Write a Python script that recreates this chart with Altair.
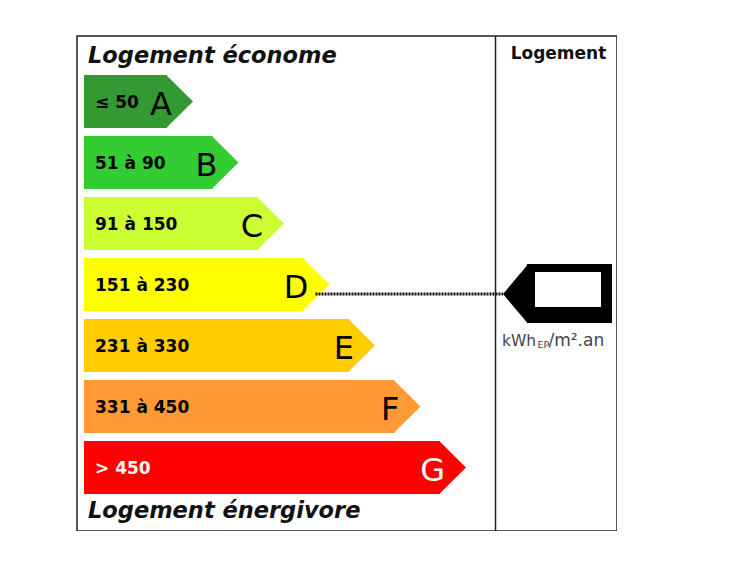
import altair as alt
import pandas as pd

# ---- data ----
classes = ["A", "B", "C", "D", "E", "F", "G"]
ranges = ["≤ 50", "51 à 90", "91 à 150", "151 à 230", "231 à 330", "331 à 450", "> 450"]
fills = ["#339933", "#33CC33", "#CCFF33", "#FFFF00", "#FFCC00", "#FF9933", "#FF0000"]
text_colors = ["#000000"] * 6 + ["#FFFFFF"]
current_class = "D"
title_top = "Logement économe"
title_bottom = "Logement énergivore"
header = "Logement"
unit_main, unit_sub, unit_end = "kWh", "EP", "/m².an"

# ---- layout (plot area = label frame, in pixel-like units) ----
W, H = 540, 495
LEFT, BODY0, STEP_X, TIP = 7, 90, 45.5, 26
TOP0, STEP_Y, BAR_H = 39, 61, 53
DIV_X = 418.5
FONT = "DejaVu Sans"

xs = alt.Scale(domain=[0, W], nice=False, zero=False)
ys = alt.Scale(domain=[0, H], nice=False, zero=False, reverse=True)
X = lambda f: alt.X(f, type="quantitative", scale=xs, axis=None)
Y = lambda f: alt.Y(f, type="quantitative", scale=ys, axis=None)

rows = []
for i, c in enumerate(classes):
    top = TOP0 + STEP_Y * i
    bot = top + BAR_H
    mid = (top + bot) / 2
    end = BODY0 + STEP_X * i
    rows.append(dict(cls=c, rng=ranges[i], fill=fills[i], tc=text_colors[i],
                     left=LEFT, end=end, top=top, bot=bot, mid=mid,
                     lx=18, ly=mid + 6.5, cx=end + 5, cy=mid + 13))
bars = pd.DataFrame(rows)

# arrow body + pointed tip (custom symbol: half-height 1 -> BAR_H/2 px)
body = alt.Chart(bars).mark_rect().encode(
    x=X("left"), x2="end", y=Y("top"), y2="bot",
    color=alt.Color("fill:N", scale=None))
tip_path = "M -0.03 -1 L %.4f 0 L -0.03 1 Z" % (TIP / (BAR_H / 2))
tip = alt.Chart(bars).mark_point(shape=tip_path, filled=True, opacity=1, size=BAR_H ** 2,
                                 strokeWidth=0).encode(
    x=X("end"), y=Y("mid"), color=alt.Color("fill:N", scale=None))

rng_text = alt.Chart(bars).mark_text(align="left", baseline="alphabetic", font=FONT,
                                     fontSize=17, fontWeight="bold").encode(
    x=X("lx"), y=Y("ly"), text="rng:N", color=alt.Color("tc:N", scale=None))

cls_text = alt.Chart(bars).mark_text(align="right", baseline="alphabetic", font=FONT,
                                     fontSize=32).encode(
    x=X("cx"), y=Y("cy"), text="cls:N", color=alt.Color("tc:N", scale=None))

titles = pd.DataFrame(dict(t=[title_top, title_bottom], x=[11, 11], y=[27, 482]))
title_text = alt.Chart(titles).mark_text(align="left", baseline="alphabetic", font=FONT,
                                         fontSize=22.5, fontWeight="bold", fontStyle="italic",
                                         color="#111").encode(x=X("x"), y=Y("y"), text="t:N")

hdr = alt.Chart(pd.DataFrame(dict(t=[header], x=[481.5], y=[23]))).mark_text(
    align="center", baseline="alphabetic", font=FONT, fontSize=17, fontWeight="bold",
    color="#111").encode(x=X("x"), y=Y("y"), text="t:N")

divider = alt.Chart(pd.DataFrame(dict(x=[DIV_X], y=[0], y2=[H]))).mark_rule(
    color="#222", strokeWidth=1.5).encode(x=X("x"), y=Y("y"), y2="y2")

# indicator tag for the current class
cur = bars[bars.cls == current_class].iloc[0]
tag_y = cur["mid"] + 9.5
tag_sh, tag_r, tag_t, tag_b = 450, 535, 228, 287
tag_half = (tag_b - tag_t) / 2
tag_tip_w = 24
tag_df = pd.DataFrame(dict(x=[tag_sh], x2=[tag_r], y=[tag_t], y2=[tag_b], ym=[tag_y]))
tag_body = alt.Chart(tag_df).mark_rect(color="#000").encode(
    x=X("x"), x2="x2", y=Y("y"), y2="y2")
tag_tip = alt.Chart(tag_df).mark_point(
    shape="M 0.03 -1 L %.4f 0 L 0.03 1 Z" % (-tag_tip_w / tag_half), filled=True, opacity=1,
    size=(2 * tag_half) ** 2, strokeWidth=0, color="#000").encode(x=X("x"), y=Y("ym"))
tag_box = alt.Chart(pd.DataFrame(dict(x=[458], x2=[524], y=[236], y2=[271]))).mark_rect(
    color="#FFFFFF").encode(x=X("x"), x2="x2", y=Y("y"), y2="y2")

dots = alt.Chart(pd.DataFrame(dict(x=[cur["end"] + 12], x2=[tag_sh - tag_tip_w], y=[tag_y]))).mark_rule(
    color="#111", strokeWidth=3, strokeDash=[2, 1]).encode(x=X("x"), x2="x2", y=Y("y"))

units = pd.DataFrame(dict(t=[unit_main, unit_sub, unit_end], x=[425, 460.5, 471.5],
                          y=[309.5, 312, 309.5], s=[15.5, 9.5, 17]))
unit_text = alt.Chart(units).mark_text(align="left", baseline="alphabetic", font=FONT,
                                       color="#444").encode(
    x=X("x"), y=Y("y"), text="t:N", size=alt.Size("s:Q", scale=None, legend=None))

chart = alt.layer(body, tip, rng_text, cls_text, title_text, hdr, divider, dots,
                  tag_body, tag_tip, tag_box, unit_text).properties(
    width=W, height=H, autosize=alt.AutoSizeParams(type="none"),
    padding={"left": 69, "top": 28, "right": 0, "bottom": 0},
    background="#FFFFFF",
).configure_view(stroke="#222", strokeWidth=1.5)

chart.save("out.html", embed_options={"renderer": "svg", "actions": False})
